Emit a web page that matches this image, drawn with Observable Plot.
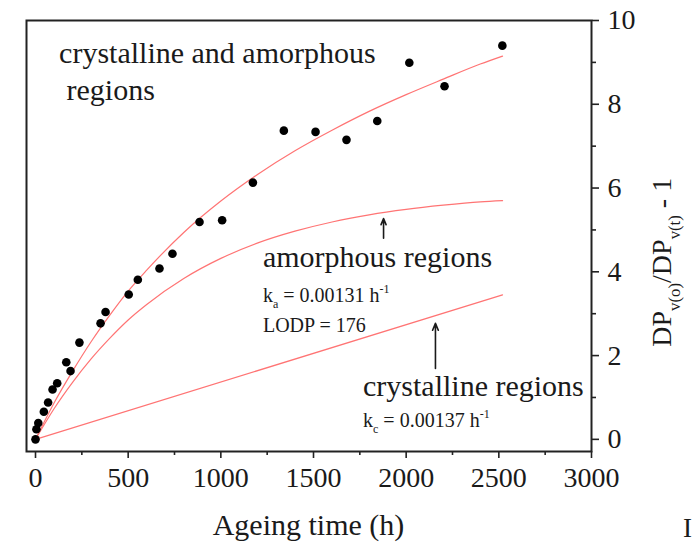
<!DOCTYPE html>
<html><head><meta charset="utf-8">
<script src="https://cdn.jsdelivr.net/npm/d3@7"></script>
<script src="https://cdn.jsdelivr.net/npm/@observablehq/plot@0.6"></script>
<style>
body{margin:0;background:#fff}
#chart{width:694px;height:545px;overflow:hidden}
</style>
</head><body><div id="chart"></div>
<script>
// measured points
const ageingTime = [0, 5, 15, 45, 68, 92, 117, 166, 189, 237, 351, 378, 503, 552, 669, 739, 885, 1007, 1173, 1340, 1511, 1678, 1844, 2017, 2207, 2519];
const dpRatio    = [0, 0.24, 0.39, 0.66, 0.88, 1.19, 1.34, 1.84, 1.63, 2.31, 2.77, 3.04, 3.46, 3.81, 4.08, 4.43, 5.19, 5.23, 6.13, 7.37, 7.34, 7.15, 7.60, 8.99, 8.43, 9.40];
// fitted curves
const curveTime  = [0, 100, 200, 300, 400, 500, 600, 800, 1000, 1200, 1400, 1600, 1800, 2000, 2200, 2400, 2520];
const amorphous  = [0, 0.73, 1.36, 1.92, 2.41, 2.85, 3.22, 3.84, 4.32, 4.69, 4.97, 5.19, 5.36, 5.49, 5.59, 5.67, 5.70];
const total      = [0, 0.87, 1.63, 2.33, 2.96, 3.54, 4.04, 4.94, 5.69, 6.33, 6.89, 7.38, 7.83, 8.23, 8.60, 8.96, 9.15];
const crystallineTime = [0, 2520];
const crystalline     = [0, 3.45];
// ticks
const xMajorTicks = [0, 500, 1000, 1500, 2000, 2500, 3000];
const xMinorTicks = [250, 750, 1250, 1750, 2250, 2750];
const yMajorTicks = [0, 2, 4, 6, 8, 10];
const yMinorTicks = [1, 3, 5, 7, 9];
// annotations (data coordinates)
const labelText = ["crystalline and amorphous", "regions", "amorphous regions", "crystalline regions"];
const labelX = [130, 170, 1230, 1770];
const labelY = [8.97, 8.09, 4.10, 1.03];
const rateSymbol = ["a", "c"];
const rateText = [" = 0.00131 h", " = 0.00137 h"];
const rateX = [1230, 1770];
const rateY = [3.27, 0.29];
const lodpText = "LODP = 176";
const lodpX = 1230, lodpY = 2.55;
const arrowX = [1878, 2158];
const arrowFrom = [4.80, 1.69];
const arrowTo = [5.27, 2.77];

const FONT = "'Liberation Serif', 'Times New Roman', serif";
const ink = "#1a1a1a";
const red = "#ff7474";

const pts = ageingTime.map((t, i) => ({t, v: dpRatio[i]}));
const curveA = curveTime.map((t, i) => ({t, v: amorphous[i]}));
const curveT = curveTime.map((t, i) => ({t, v: total[i]}));
const curveC = crystallineTime.map((t, i) => ({t, v: crystalline[i]}));
const arrows = arrowX.map((x, i) => ({x, y1: arrowFrom[i], y2: arrowTo[i]}));

const plot = Plot.plot({
  width: 694, height: 545,
  marginLeft: 26, marginRight: 103, marginTop: 20, marginBottom: 94,
  style: {fontFamily: FONT, color: ink, background: "#fff", overflow: "visible"},
  x: {domain: [-48.6, 3000], axis: null},
  y: {domain: [-0.29, 10], axis: null},
  marks: [
    Plot.line(curveT, {x: "t", y: "v", stroke: red, strokeWidth: 1.2, curve: "monotone-x"}),
    Plot.line(curveA, {x: "t", y: "v", stroke: red, strokeWidth: 1.2, curve: "monotone-x"}),
    Plot.line(curveC, {x: "t", y: "v", stroke: red, strokeWidth: 1.2}),
    Plot.dot(pts, {x: "t", y: "v", r: 4.3, fill: "#000"}),
    Plot.arrow(arrows, {x: "x", y1: "y1", y2: "y2", stroke: ink, strokeWidth: 1.6, headLength: 7, headAngle: 45}),
    Plot.axisX(xMajorTicks, {anchor: "bottom", tickSize: 7, tickPadding: 9, fontSize: 28, strokeWidth: 1.6, label: null, stroke: "#222", fill: ink, tickFormat: d => String(d)}),
    Plot.axisX(xMinorTicks, {anchor: "bottom", tickSize: 4, tickFormat: () => "", strokeWidth: 1.6, label: null, stroke: "#222"}),
    Plot.axisY(yMajorTicks, {anchor: "right", tickSize: 7, tickPadding: 9, fontSize: 28, strokeWidth: 1.6, label: null, stroke: "#222", fill: ink, tickFormat: d => String(d)}),
    Plot.axisY(yMinorTicks, {anchor: "right", tickSize: 4, tickFormat: () => "", strokeWidth: 1.6, label: null, stroke: "#222"}),
    Plot.frame({stroke: "#222", strokeWidth: 2})
  ]
});
document.getElementById("chart").appendChild(plot);

const xs = plot.scale("x"), ys = plot.scale("y");
const svg = d3.select(plot);
const g = svg.append("g").attr("font-family", FONT).attr("fill", ink).attr("text-anchor", "start");

function rich(parent, x, y, parts, size, transform) {
  const t = parent.append("text").attr("x", x).attr("y", y).attr("font-size", size).attr("text-anchor", "start");
  if (transform) t.attr("transform", transform);
  let shift = 0;
  for (const p of parts) {
    const target = p.sub ? size * 0.32 : p.sup ? -size * 0.42 : 0;
    t.append("tspan").attr("dy", target - shift).attr("font-size", (p.sub || p.sup) ? size * 0.6 : size).text(p.t);
    shift = target;
  }
  return t;
}

labelText.forEach((s, i) => {
  g.append("text").attr("x", xs.apply(labelX[i])).attr("y", ys.apply(labelY[i]))
    .attr("font-size", 30).attr("text-anchor", "start").text(s);
});
rateSymbol.forEach((s, i) => {
  rich(g, xs.apply(rateX[i]), ys.apply(rateY[i]), [
    {t: "k"}, {t: s, sub: true}, {t: rateText[i]}, {t: "-1", sup: true}
  ], 20);
});
g.append("text").attr("x", xs.apply(lodpX)).attr("y", ys.apply(lodpY)).attr("font-size", 20)
  .attr("text-anchor", "start").text(lodpText);

// axis titles
const x0 = xs.range[0], x1 = xs.range[1];
g.append("text").attr("x", (x0 + x1) / 2).attr("y", 535).attr("text-anchor", "middle")
  .attr("font-size", 30).text("Ageing time (h)");
rich(g, 0, 0, [
  {t: "DP"}, {t: "v(o)", sub: true}, {t: "/DP"}, {t: "v(t)", sub: true}, {t: " - 1"}
], 28, `translate(${x1 + 80},${ys.apply(2.2)}) rotate(-90)`);
g.append("text").attr("x", 683).attr("y", 537).attr("font-size", 27).attr("text-anchor", "start").text("I");
</script>
</body></html>
